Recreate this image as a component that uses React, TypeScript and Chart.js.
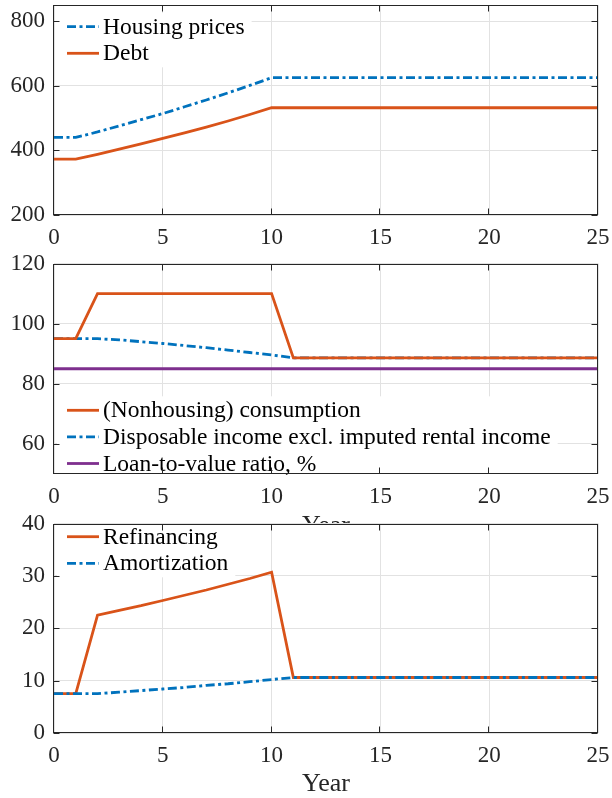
import React, { useEffect, useRef } from "react";
import { Chart, registerables } from "chart.js";

Chart.register(...registerables);

// ---------- DATA ----------
const years = [0, 1, 2, 3, 4, 5, 6, 7, 8, 9, 10, 11, 12, 13, 14, 15, 16, 17, 18, 19, 20, 21, 22, 23, 24, 25];
const xTicks = [0, 5, 10, 15, 20, 25];

const housingPrices = [440, 440, 457, 476, 495, 514, 535, 556, 578, 601, 625, 625, 625, 625, 625, 625, 625, 625, 625, 625, 625, 625, 625, 625, 625, 625];
const debt = [373, 373, 388, 404, 420, 437, 454, 472, 491, 511, 532, 532, 532, 532, 532, 532, 532, 532, 532, 532, 532, 532, 532, 532, 532, 532];
const yTicks1 = [200, 400, 600, 800];

const consumption = [95, 95, 110, 110, 110, 110, 110, 110, 110, 110, 110, 88.6, 88.6, 88.6, 88.6, 88.6, 88.6, 88.6, 88.6, 88.6, 88.6, 88.6, 88.6, 88.6, 88.6, 88.6];
const disposableIncome = [95, 95, 95, 94.6, 94.0, 93.4, 92.7, 92.0, 91.2, 90.4, 89.6, 88.6, 88.6, 88.6, 88.6, 88.6, 88.6, 88.6, 88.6, 88.6, 88.6, 88.6, 88.6, 88.6, 88.6, 88.6];
const loanToValue = [85, 85, 85, 85, 85, 85, 85, 85, 85, 85, 85, 85, 85, 85, 85, 85, 85, 85, 85, 85, 85, 85, 85, 85, 85, 85];
const yTicks2 = [60, 80, 100, 120];

const refinancing = [7.5, 7.5, 22.5, 23.4, 24.3, 25.3, 26.3, 27.3, 28.4, 29.5, 30.7, 10.6, 10.6, 10.6, 10.6, 10.6, 10.6, 10.6, 10.6, 10.6, 10.6, 10.6, 10.6, 10.6, 10.6, 10.6];
const amortization = [7.5, 7.5, 7.5, 7.8, 8.1, 8.4, 8.7, 9.1, 9.4, 9.8, 10.2, 10.6, 10.6, 10.6, 10.6, 10.6, 10.6, 10.6, 10.6, 10.6, 10.6, 10.6, 10.6, 10.6, 10.6, 10.6];
const yTicks3 = [0, 10, 20, 30, 40];

// ---------- STYLE ----------
const BLUE = "#0072BD";
const ORANGE = "#D95319";
const PURPLE = "#7E2F8E";
const AXIS = "#262626";
const GRID = "#e2e2e2";
const FONT = "'Liberation Serif', 'Times New Roman', serif";
const DASHDOT = [9, 3.5, 3, 3.5];
const SOLID: number[] = [];
const LW = 2.8;

type Series = { label: string; values: number[]; color: string; dash: number[]; order: number };
type PanelSpec = {
  top: number;
  height: number;
  padTop: number;
  axisH: number;
  yMin: number;
  yMax: number;
  yTicks: number[];
  series: Series[];
  legendAnchor: "top" | "bottom";
  legendOffset: number;
  title: boolean;
};

const panels: PanelSpec[] = [
  {
    top: 0, height: 258, padTop: 5, axisH: 43, yMin: 200, yMax: 850, yTicks: yTicks1,
    series: [
      { label: "Housing prices", values: housingPrices, color: BLUE, dash: DASHDOT, order: 0 },
      { label: "Debt", values: debt, color: ORANGE, dash: SOLID, order: 1 },
    ],
    legendAnchor: "top", legendOffset: 21.7, title: false,
  },
  {
    top: 250, height: 290, padTop: 13.5, axisH: 66, yMin: 50, yMax: 120, yTicks: yTicks2,
    series: [
      { label: "(Nonhousing) consumption", values: consumption, color: ORANGE, dash: SOLID, order: 0 },
      { label: "Disposable income excl. imputed rental income", values: disposableIncome, color: BLUE, dash: DASHDOT, order: 1 },
      { label: "Loan-to-value ratio, %", values: loanToValue, color: PURPLE, dash: SOLID, order: 2 },
    ],
    legendAnchor: "bottom", legendOffset: 10.5, title: true,
  },
  {
    top: 510, height: 288, padTop: 13.5, axisH: 65, yMin: 0, yMax: 40, yTicks: yTicks3,
    series: [
      { label: "Refinancing", values: refinancing, color: ORANGE, dash: SOLID, order: 1 },
      { label: "Amortization", values: amortization, color: BLUE, dash: DASHDOT, order: 0 },
    ],
    legendAnchor: "top", legendOffset: 13.2, title: true,
  },
];

function makeDecor(spec: PanelSpec) {
  return {
    id: "panelDecor",
    beforeDraw(chart: any) {
      const { ctx, chartArea: a } = chart;
      ctx.save();
      ctx.fillStyle = "#ffffff";
      ctx.fillRect(a.left, a.top, a.right - a.left, a.bottom - a.top);
      ctx.restore();
    },
    afterDatasetsDraw(chart: any) {
      const { ctx, chartArea: a } = chart;
      ctx.save();
      ctx.font = `23.5px ${FONT}`;
      const widths = spec.series.map((s) => ctx.measureText(s.label).width);
      const maxW = Math.max(...widths);
      const rowH = 26.6;
      const n = spec.series.length;
      const firstY = spec.legendAnchor === "top"
        ? a.top + spec.legendOffset
        : a.bottom - spec.legendOffset - (n - 1) * rowH;
      const bx = a.left + 3;
      const by = Math.max(a.top + 1, firstY - 14);
      const bw = 49 + maxW + 4;
      const bBottom = Math.min(a.bottom - 1, firstY + (n - 1) * rowH + 14);
      ctx.fillStyle = "#ffffff";
      ctx.fillRect(bx, by, bw, bBottom - by);
      spec.series.forEach((s, i) => {
        const y = firstY + i * rowH;
        ctx.strokeStyle = s.color;
        ctx.lineWidth = LW;
        ctx.setLineDash(s.dash);
        ctx.beginPath();
        ctx.moveTo(a.left + 13, y);
        ctx.lineTo(a.left + 45, y);
        ctx.stroke();
        ctx.setLineDash([]);
        ctx.fillStyle = "#000000";
        ctx.textBaseline = "middle";
        ctx.textAlign = "left";
        ctx.fillText(s.label, a.left + 49, y + 1);
      });
      ctx.restore();
    },
    afterDraw(chart: any) {
      const { ctx, chartArea: a, scales } = chart;
      ctx.save();
      ctx.strokeStyle = AXIS;
      ctx.lineWidth = 1;
      const l = Math.round(a.left) - 0.5;
      const r = Math.round(a.right) - 0.5;
      const t = Math.round(a.top) + 0.5;
      const b = Math.round(a.bottom) - 0.5;
      ctx.strokeRect(l, t, r - l, b - t);
      const tl = 6;
      ctx.beginPath();
      xTicks.forEach((v) => {
        const px = Math.round(scales.x.getPixelForValue(v)) - 0.5;
        ctx.moveTo(px, b); ctx.lineTo(px, b - tl);
        ctx.moveTo(px, t); ctx.lineTo(px, t + tl);
      });
      spec.yTicks.forEach((v) => {
        const py = Math.round(scales.y.getPixelForValue(v)) + 0.5;
        ctx.moveTo(l, py); ctx.lineTo(l + tl, py);
        ctx.moveTo(r, py); ctx.lineTo(r - tl, py);
      });
      ctx.stroke();
      ctx.restore();
    },
  };
}

function Panel({ spec }: { spec: PanelSpec }) {
  const ref = useRef<HTMLCanvasElement>(null);
  useEffect(() => {
    if (!ref.current) return;
    const chart = new Chart(ref.current, {
      type: "line",
      data: {
        datasets: spec.series.map((s) => ({
          label: s.label,
          data: years.map((x, i) => ({ x, y: s.values[i] })),
          borderColor: s.color,
          backgroundColor: s.color,
          borderWidth: LW,
          borderDash: s.dash,
          pointRadius: 0,
          tension: 0,
          fill: false,
          order: s.order,
        })),
      },
      options: {
        animation: false,
        responsive: false,
        devicePixelRatio: 1,
        layout: { padding: { top: spec.padTop, right: 14, left: 0, bottom: 0 } },
        plugins: { legend: { display: false }, tooltip: { enabled: false } },
        scales: {
          x: {
            type: "linear",
            min: 0,
            max: 25,
            afterBuildTicks: (scale: any) => { scale.ticks = xTicks.map((v) => ({ value: v })); },
            afterFit: (scale: any) => {
              scale.height = spec.axisH;
              scale.paddingLeft = 0;
              scale.paddingRight = 0;
            },
            grid: { color: GRID, lineWidth: 1, drawTicks: false },
            border: { display: false },
            ticks: {
              padding: 9,
              color: AXIS,
              font: { family: FONT, size: 23 },
              maxRotation: 0,
              autoSkip: false,
            },
            title: {
              display: spec.title,
              text: "Year",
              color: AXIS,
              font: { family: FONT, size: 26, lineHeight: 1 },
              padding: { top: 0, bottom: 1 },
            },
          },
          y: {
            type: "linear",
            min: spec.yMin,
            max: spec.yMax,
            afterBuildTicks: (scale: any) => { scale.ticks = spec.yTicks.map((v) => ({ value: v })); },
            afterFit: (scale: any) => {
              scale.width = 54;
              scale.paddingTop = 0;
              scale.paddingBottom = 0;
            },
            grid: { color: GRID, lineWidth: 1, drawTicks: false },
            border: { display: false },
            ticks: {
              padding: 9,
              color: AXIS,
              font: { family: FONT, size: 23 },
              autoSkip: false,
            },
          },
        },
      },
      plugins: [makeDecor(spec)],
    } as any);
    return () => chart.destroy();
  }, [spec]);
  return (
    <canvas
      ref={ref}
      width={612}
      height={spec.height}
      style={{ position: "absolute", left: 0, top: spec.top, width: 612, height: spec.height }}
    />
  );
}

export default function App() {
  return (
    <div style={{ position: "fixed", left: 0, top: 0, width: 612, height: 798, background: "#ffffff", overflow: "hidden" }}>
      {panels.map((p, i) => (
        <Panel key={i} spec={p} />
      ))}
    </div>
  );
}
